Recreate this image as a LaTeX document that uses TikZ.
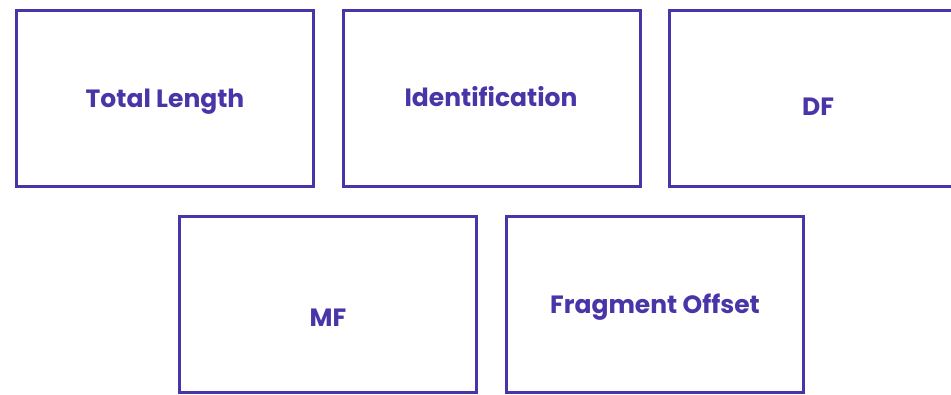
\documentclass[tikz,border=0pt]{standalone}
\usepackage{fontspec}
\setmainfont{Poppins}
\definecolor{fc}{HTML}{4A35A8}
\begin{document}
\begin{tikzpicture}[x=1pt,y=-1pt,
  fieldbox/.style={draw=fc,line width=3.5pt,fill=white,minimum width=297pt,minimum height=176pt,inner sep=0pt,outer sep=0pt,anchor=north west},
  lbl/.style={text=fc,font=\fontsize{25}{28}\selectfont\bfseries,anchor=base,inner sep=0pt}]
\useasboundingbox (0,0) rectangle (951,394);
\node[fieldbox] (tl) at (16.5,10.5) {};
\node[fieldbox] (id) at (343.5,10.5) {};
\node[fieldbox] (df) at (669.5,10.5) {};
\node[fieldbox] (mf) at (179.5,216.5) {};
\node[fieldbox] (fo) at (506.5,216.5) {};
\node[lbl] (tlt) at (165,107) {Total Length};
\node[lbl] (idt) at (491,106) {Identification};
\node[lbl] (dft) at (818,115) {DF};
\node[lbl] (mft) at (328,326) {MF};
\node[lbl] (fot) at (655,313) {Fragment Offset};
\end{tikzpicture}
\end{document}
